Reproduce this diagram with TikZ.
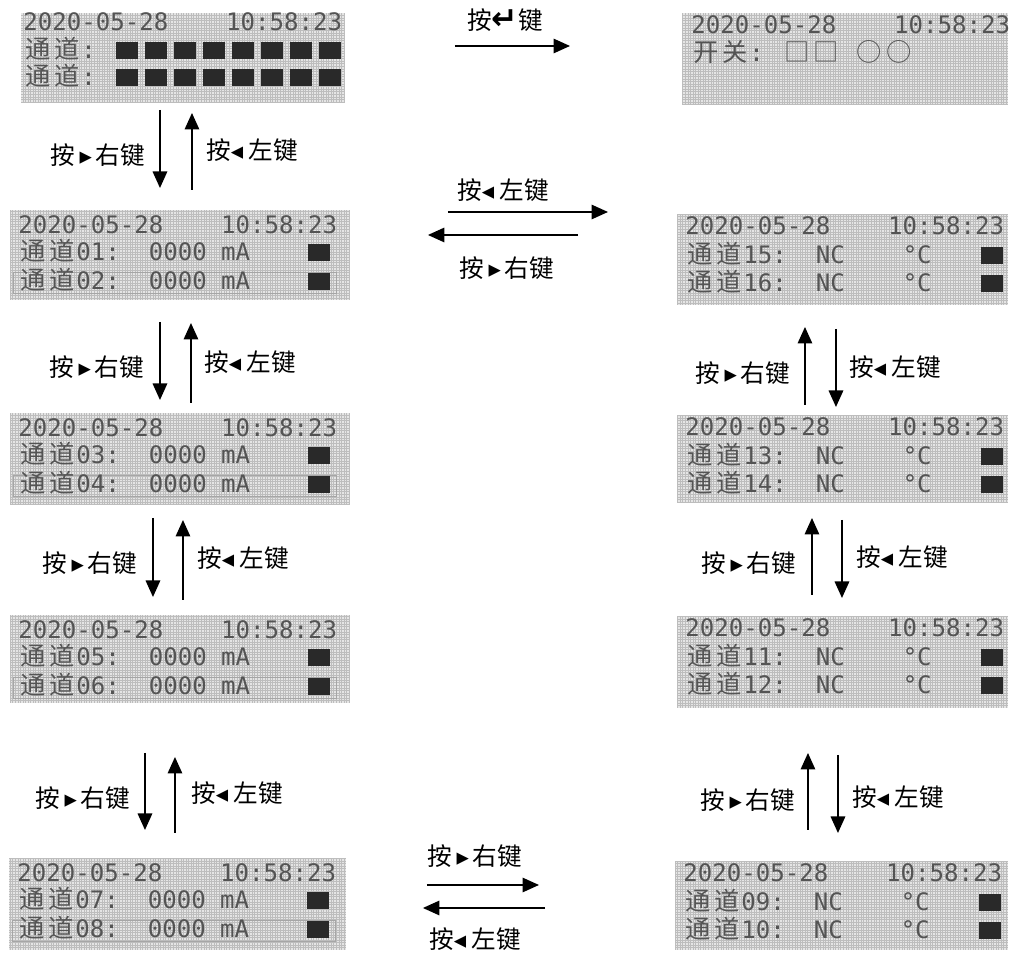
\documentclass[tikz,border=0pt]{standalone}
\usepackage{fontspec}
\usetikzlibrary{arrows.meta,calc}
\newfontfamily\lcdfont{DejaVu Sans Mono}
\newfontfamily\lcdzh{Noto Sans CJK SC}[Scale=1.05]
\newfontfamily\keyzh{Noto Sans CJK SC}
\newfontfamily\keysym{DejaVu Sans}
\newlength{\lcdcw}
\setlength{\lcdcw}{0.29cm}
\definecolor{lcdbg}{gray}{0.90}
\definecolor{lcddot}{gray}{0.74}
\definecolor{lcdink}{gray}{0.33}
\definecolor{lcdblk}{gray}{0.16}
% one LCD cell of a Chinese character, and the dark status block
\newcommand{\zc}[1]{\makebox[2\lcdcw][c]{\smash{\lcdzh #1}}}
\newcommand{\blk}{\textcolor{lcdblk}{\rule{1.5\lcdcw}{0.34cm}}}
\newcommand{\rkey}{按\,{\keysym ▸}\,右键}
\newcommand{\lkey}{按{\keysym ◂}\ 左键}

\begin{document}
\begin{tikzpicture}[
    x=0.02cm, y=-0.02cm,
    lcd/.style={anchor=north west, fill=lcdbg, inner sep=0pt, outer sep=0pt},
    lcdgrid/.style={draw=lcddot, line width=0.3pt, step=1.45pt},
    lcdtxt/.style={anchor=base west, inner sep=0pt, text=lcdink,
                   font=\lcdfont\fontsize{13.7pt}{14pt}\selectfont},
    rowframe/.style={draw=black!35, line width=0.4pt},
    keylbl/.style={inner sep=0pt, font=\keyzh\fontsize{14pt}{16pt}\selectfont},
    arr/.style={-{Triangle[length=0.33cm,width=0.29cm]}, line width=0.9pt}
]
\useasboundingbox (0,0) rectangle (1012,955);

%--------
% LCD SCREENS
%--------
\node[lcd, minimum width=6.48cm, minimum height=1.80cm] (scrA) at (21,13) {};
\node[lcd, minimum width=6.52cm, minimum height=1.84cm] (scrB) at (682,13) {};
\node[lcd, minimum width=6.80cm, minimum height=1.80cm] (scrC) at (10,210) {};
\node[lcd, minimum width=6.62cm, minimum height=1.82cm] (scrD) at (677,214) {};
\node[lcd, minimum width=6.80cm, minimum height=1.84cm] (scrE) at (10,413) {};
\node[lcd, minimum width=6.62cm, minimum height=1.76cm] (scrJ) at (677,415) {};
\node[lcd, minimum width=6.80cm, minimum height=1.76cm] (scrF) at (10,615) {};
\node[lcd, minimum width=6.62cm, minimum height=1.84cm] (scrI) at (677,616) {};
\node[lcd, minimum width=6.74cm, minimum height=1.84cm] (scrG) at (9,858) {};
\node[lcd, minimum width=6.66cm, minimum height=1.78cm] (scrH) at (675,861) {};

% dot matrix
\foreach \s in {scrA,scrB,scrC,scrD,scrE,scrJ,scrF,scrI,scrG,scrH}
    \draw[lcdgrid] (\s.north west) grid (\s.south east);

% selected row frame on the mA screens
\foreach \s in {scrC,scrE,scrF,scrG}
    \draw[rowframe] ($(\s.north west)+(3,62)$) rectangle ($(\s.north west)+(326,83)$);

% overview and switch screens
\node[lcdtxt] (tA1) at ($(scrA.north west)+(2,18)$) {2020-05-28\hspace{4\lcdcw}10:58:23};
\node[lcdtxt] (tA2) at ($(scrA.north west)+(2,46)$) {\zc{通}\zc{道}:\hspace{1.4\lcdcw}%
    \blk\hspace{.5\lcdcw}\blk\hspace{.5\lcdcw}\blk\hspace{.5\lcdcw}\blk\hspace{.5\lcdcw}%
    \blk\hspace{.5\lcdcw}\blk\hspace{.5\lcdcw}\blk\hspace{.5\lcdcw}\blk};
\node[lcdtxt] (tA3) at ($(scrA.north west)+(2,73)$) {\zc{通}\zc{道}:\hspace{1.4\lcdcw}%
    \blk\hspace{.5\lcdcw}\blk\hspace{.5\lcdcw}\blk\hspace{.5\lcdcw}\blk\hspace{.5\lcdcw}%
    \blk\hspace{.5\lcdcw}\blk\hspace{.5\lcdcw}\blk\hspace{.5\lcdcw}\blk};
\node[lcdtxt] (tB1) at ($(scrB.north west)+(9,21)$) {2020-05-28\hspace{4\lcdcw}10:58:23};
\node[lcdtxt] (tB2) at ($(scrB.north west)+(9,49)$) {\zc{开}\zc{关}:\hspace{1.3\lcdcw}%
    \zc{□}\zc{□}\hspace{\lcdcw}\zc{○}\zc{○}};

% current channels 01-08
\node[lcdtxt] (tC1) at ($(scrC.north west)+(8,24)$) {2020-05-28\hspace{4\lcdcw}10:58:23};
\node[lcdtxt] (tC2) at ($(scrC.north west)+(8,51)$) {\zc{通}\zc{道}01:\hspace{2\lcdcw}0000\hspace{\lcdcw}mA\hspace{4\lcdcw}\blk};
\node[lcdtxt] (tC3) at ($(scrC.north west)+(8,80)$) {\zc{通}\zc{道}02:\hspace{2\lcdcw}0000\hspace{\lcdcw}mA\hspace{4\lcdcw}\blk};
\node[lcdtxt] (tE1) at ($(scrE.north west)+(8,24)$) {2020-05-28\hspace{4\lcdcw}10:58:23};
\node[lcdtxt] (tE2) at ($(scrE.north west)+(8,51)$) {\zc{通}\zc{道}03:\hspace{2\lcdcw}0000\hspace{\lcdcw}mA\hspace{4\lcdcw}\blk};
\node[lcdtxt] (tE3) at ($(scrE.north west)+(8,80)$) {\zc{通}\zc{道}04:\hspace{2\lcdcw}0000\hspace{\lcdcw}mA\hspace{4\lcdcw}\blk};
\node[lcdtxt] (tF1) at ($(scrF.north west)+(8,24)$) {2020-05-28\hspace{4\lcdcw}10:58:23};
\node[lcdtxt] (tF2) at ($(scrF.north west)+(8,51)$) {\zc{通}\zc{道}05:\hspace{2\lcdcw}0000\hspace{\lcdcw}mA\hspace{4\lcdcw}\blk};
\node[lcdtxt] (tF3) at ($(scrF.north west)+(8,80)$) {\zc{通}\zc{道}06:\hspace{2\lcdcw}0000\hspace{\lcdcw}mA\hspace{4\lcdcw}\blk};
\node[lcdtxt] (tG1) at ($(scrG.north west)+(8,24)$) {2020-05-28\hspace{4\lcdcw}10:58:23};
\node[lcdtxt] (tG2) at ($(scrG.north west)+(8,51)$) {\zc{通}\zc{道}07:\hspace{2\lcdcw}0000\hspace{\lcdcw}mA\hspace{4\lcdcw}\blk};
\node[lcdtxt] (tG3) at ($(scrG.north west)+(8,80)$) {\zc{通}\zc{道}08:\hspace{2\lcdcw}0000\hspace{\lcdcw}mA\hspace{4\lcdcw}\blk};

% temperature channels 09-16
\node[lcdtxt] (tH1) at ($(scrH.north west)+(8,21)$) {2020-05-28\hspace{4\lcdcw}10:58:23};
\node[lcdtxt] (tH2) at ($(scrH.north west)+(8,50)$) {\zc{通}\zc{道}09:\hspace{2\lcdcw}NC\hspace{4\lcdcw}°C\hspace{3.4\lcdcw}\blk};
\node[lcdtxt] (tH3) at ($(scrH.north west)+(8,78)$) {\zc{通}\zc{道}10:\hspace{2\lcdcw}NC\hspace{4\lcdcw}°C\hspace{3.4\lcdcw}\blk};
\node[lcdtxt] (tI1) at ($(scrI.north west)+(8,21)$) {2020-05-28\hspace{4\lcdcw}10:58:23};
\node[lcdtxt] (tI2) at ($(scrI.north west)+(8,50)$) {\zc{通}\zc{道}11:\hspace{2\lcdcw}NC\hspace{4\lcdcw}°C\hspace{3.4\lcdcw}\blk};
\node[lcdtxt] (tI3) at ($(scrI.north west)+(8,78)$) {\zc{通}\zc{道}12:\hspace{2\lcdcw}NC\hspace{4\lcdcw}°C\hspace{3.4\lcdcw}\blk};
\node[lcdtxt] (tJ1) at ($(scrJ.north west)+(8,21)$) {2020-05-28\hspace{4\lcdcw}10:58:23};
\node[lcdtxt] (tJ2) at ($(scrJ.north west)+(8,50)$) {\zc{通}\zc{道}13:\hspace{2\lcdcw}NC\hspace{4\lcdcw}°C\hspace{3.4\lcdcw}\blk};
\node[lcdtxt] (tJ3) at ($(scrJ.north west)+(8,78)$) {\zc{通}\zc{道}14:\hspace{2\lcdcw}NC\hspace{4\lcdcw}°C\hspace{3.4\lcdcw}\blk};
\node[lcdtxt] (tD1) at ($(scrD.north west)+(8,21)$) {2020-05-28\hspace{4\lcdcw}10:58:23};
\node[lcdtxt] (tD2) at ($(scrD.north west)+(8,50)$) {\zc{通}\zc{道}15:\hspace{2\lcdcw}NC\hspace{4\lcdcw}°C\hspace{3.4\lcdcw}\blk};
\node[lcdtxt] (tD3) at ($(scrD.north west)+(8,78)$) {\zc{通}\zc{道}16:\hspace{2\lcdcw}NC\hspace{4\lcdcw}°C\hspace{3.4\lcdcw}\blk};

%--------
% KEY ARROWS
%--------
% enter key: overview -> switches
\draw[arr] ($(scrA.north east)+(110,33)$) -- ($(scrA.north east -| scrB.west)+(-112,33)$);

% left column, going down with the right key
\draw[arr] ($(scrA.south)+(-23,7)$) -- ($(scrA.south |- scrC.north)+(-23,-22)$);
\draw[arr] ($(scrA.south |- scrC.north)+(9,-20)$) -- ($(scrA.south)+(9,10)$);
\draw[arr] ($(scrC.south)+(-20,22)$) -- ($(scrC.south |- scrE.north)+(-20,-13)$);
\draw[arr] ($(scrC.south |- scrE.north)+(11,-10)$) -- ($(scrC.south)+(11,23)$);
\draw[arr] ($(scrE.south)+(-27,13)$) -- ($(scrE.south |- scrF.north)+(-27,-18)$);
\draw[arr] ($(scrE.south |- scrF.north)+(3,-15)$) -- ($(scrE.south)+(3,15)$);
\draw[arr] ($(scrF.south)+(-35,50)$) -- ($(scrF.south |- scrG.north)+(-35,-28)$);
\draw[arr] ($(scrF.south |- scrG.north)+(-5,-25)$) -- ($(scrF.south)+(-5,54)$);

% bottom pair 07/08 <-> 09/10
\draw[arr] ($(scrG.north east)+(81,27)$) -- ($(scrG.north east -| scrH.west)+(-136,27)$);
\draw[arr] ($(scrG.north east -| scrH.west)+(-130,50)$) -- ($(scrG.north east)+(77,50)$);

% right column, going up with the right key
\draw[arr] ($(scrH.north)+(-33.5,-31)$) -- ($(scrH.north |- scrI.south)+(-33.5,45)$);
\draw[arr] ($(scrH.north |- scrI.south)+(-3.5,47)$) -- ($(scrH.north)+(-3.5,-28)$);
\draw[arr] ($(scrI.north)+(-30.5,-21)$) -- ($(scrI.north |- scrJ.south)+(-30.5,15)$);
\draw[arr] ($(scrI.north |- scrJ.south)+(-0.5,17)$) -- ($(scrI.north)+(-0.5,-18)$);
\draw[arr] ($(scrJ.north)+(-37.5,-10)$) -- ($(scrJ.north |- scrD.south)+(-37.5,22)$);
\draw[arr] ($(scrJ.north |- scrD.south)+(-6.5,24)$) -- ($(scrJ.north)+(-6.5,-8)$);

% top pair 01/02 <-> 15/16
\draw[arr] ($(scrC.north east)+(98,2)$) -- ($(scrC.north east -| scrD.west)+(-69,2)$);
\draw[arr] ($(scrC.north east -| scrD.west)+(-99,25)$) -- ($(scrC.north east)+(78,25)$);

%--------
% KEY LABELS
%--------
\node[keylbl] (lAB) at (505,20) {按{\keysym\bfseries\fontsize{18pt}{18pt}\selectfont ↵}键};
\node[keylbl] (lAC1) at (98,155) {\rkey};
\node[keylbl] (lAC2) at (252,150) {\lkey};
\node[keylbl] (lCE1) at (97,367) {\rkey};
\node[keylbl] (lCE2) at (250,362) {\lkey};
\node[keylbl] (lEF1) at (90,563) {\rkey};
\node[keylbl] (lEF2) at (243,558) {\lkey};
\node[keylbl] (lFG1) at (83,798) {\rkey};
\node[keylbl] (lFG2) at (237,793) {\lkey};
\node[keylbl] (lCD1) at (503,190) {\lkey};
\node[keylbl] (lCD2) at (507,268) {\rkey};
\node[keylbl] (lGH1) at (475,856) {\rkey};
\node[keylbl] (lGH2) at (475,939) {\lkey};
\node[keylbl] (lJD1) at (743,373) {\rkey};
\node[keylbl] (lJD2) at (895,367) {\lkey};
\node[keylbl] (lIJ1) at (749,563) {\rkey};
\node[keylbl] (lIJ2) at (902,557) {\lkey};
\node[keylbl] (lHI1) at (748,800) {\rkey};
\node[keylbl] (lHI2) at (898,797) {\lkey};

\end{tikzpicture}
\end{document}
